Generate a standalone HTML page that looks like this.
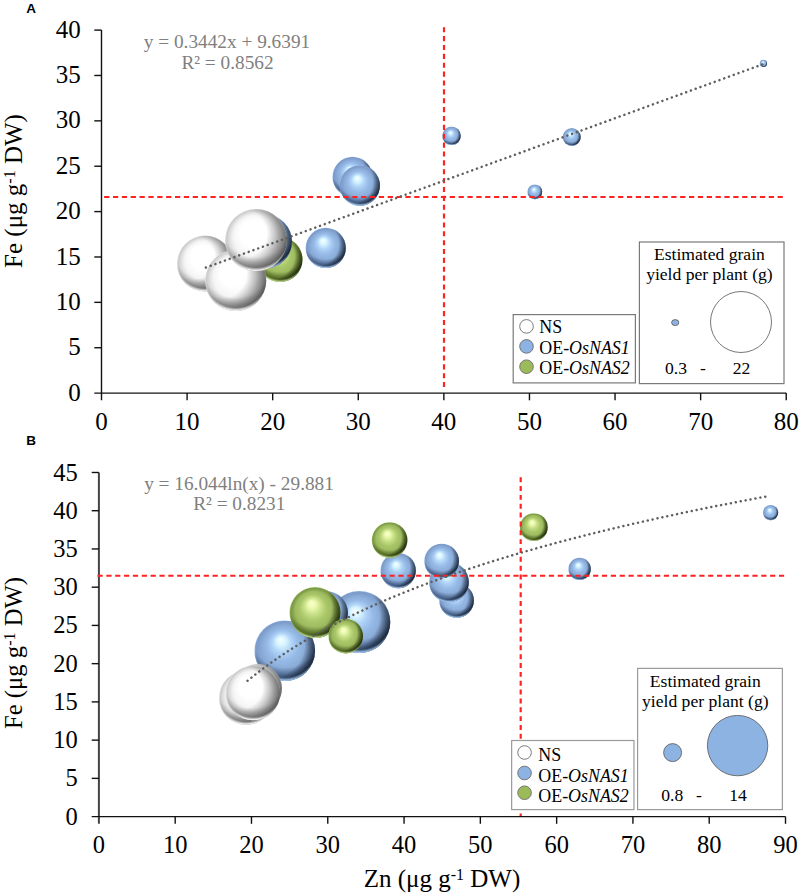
<!DOCTYPE html>
<html><head><meta charset="utf-8"><title>Bubble charts</title>
<style>html,body{margin:0;padding:0;background:#fff;}body{width:800px;height:894px;overflow:hidden;font-family:"Liberation Serif", serif;}svg{display:block;}</style>
</head><body>
<svg width="800" height="894" viewBox="0 0 800 894" font-family='"Liberation Serif", serif'>
<defs><radialGradient id="base_b" cx="0.5" cy="0.5" r="0.5" fx="0.43" fy="0.31"><stop offset="0" stop-color="#f6ffff"/><stop offset="0.15" stop-color="#d9f5ff"/><stop offset="0.33" stop-color="#aed2f7"/><stop offset="0.52" stop-color="#96bae6"/><stop offset="0.74" stop-color="#89aad6"/><stop offset="0.88" stop-color="#7e9dcb"/><stop offset="0.95" stop-color="#7d9ccb"/><stop offset="1" stop-color="#95bbea"/></radialGradient>
<radialGradient id="base_g" cx="0.5" cy="0.5" r="0.5" fx="0.43" fy="0.31"><stop offset="0" stop-color="#fcffd4"/><stop offset="0.15" stop-color="#ecfbb0"/><stop offset="0.33" stop-color="#c8e088"/><stop offset="0.52" stop-color="#aac86a"/><stop offset="0.74" stop-color="#9cb95e"/><stop offset="0.88" stop-color="#809e48"/><stop offset="0.95" stop-color="#7f9d47"/><stop offset="1" stop-color="#abcd78"/></radialGradient>
<radialGradient id="base_w" cx="0.5" cy="0.5" r="0.5" fx="0.43" fy="0.31"><stop offset="0" stop-color="#ffffff"/><stop offset="0.42" stop-color="#ffffff"/><stop offset="0.68" stop-color="#f5f5f5"/><stop offset="0.85" stop-color="#dcdcdc"/><stop offset="0.94" stop-color="#cbcbcb"/><stop offset="1" stop-color="#e6e6e6"/></radialGradient>
<radialGradient id="dark_b" cx="0.3" cy="0.4" r="0.75">
<stop offset="0.7" stop-color="#0c1522" stop-opacity="0"/>
<stop offset="0.88" stop-color="#0c1522" stop-opacity="0.6"/>
<stop offset="1" stop-color="#0c1522" stop-opacity="1.0"/></radialGradient>
<radialGradient id="dark_g" cx="0.3" cy="0.4" r="0.75">
<stop offset="0.7" stop-color="#141c04" stop-opacity="0"/>
<stop offset="0.88" stop-color="#141c04" stop-opacity="0.6"/>
<stop offset="1" stop-color="#141c04" stop-opacity="1.0"/></radialGradient>
<radialGradient id="dark_w" cx="0.3" cy="0.4" r="0.75">
<stop offset="0.5" stop-color="#2a2a2a" stop-opacity="0"/>
<stop offset="0.88" stop-color="#2a2a2a" stop-opacity="0.5"/>
<stop offset="1" stop-color="#2a2a2a" stop-opacity="0.8"/></radialGradient>
<radialGradient id="band_b" cx="0.5" cy="0.2" r="0.8">
<stop offset="0.72" stop-color="#243a5c" stop-opacity="0"/>
<stop offset="0.9" stop-color="#243a5c" stop-opacity="0.62"/>
<stop offset="0.955" stop-color="#243a5c" stop-opacity="0.62"/>
<stop offset="1" stop-color="#243a5c" stop-opacity="0"/></radialGradient>
<radialGradient id="band_g" cx="0.5" cy="0.2" r="0.8">
<stop offset="0.72" stop-color="#34460e" stop-opacity="0"/>
<stop offset="0.9" stop-color="#34460e" stop-opacity="0.55"/>
<stop offset="0.955" stop-color="#34460e" stop-opacity="0.55"/>
<stop offset="1" stop-color="#34460e" stop-opacity="0"/></radialGradient>
<radialGradient id="band_w" cx="0.5" cy="0.2" r="0.8">
<stop offset="0.72" stop-color="#606060" stop-opacity="0"/>
<stop offset="0.9" stop-color="#606060" stop-opacity="0.4"/>
<stop offset="0.955" stop-color="#606060" stop-opacity="0.4"/>
<stop offset="1" stop-color="#606060" stop-opacity="0"/></radialGradient>
<radialGradient id="rim_b" cx="0.5" cy="0.42" r="0.6">
<stop offset="0.87" stop-color="#a8cef8" stop-opacity="0"/>
<stop offset="0.95" stop-color="#a8cef8" stop-opacity="0.9"/>
<stop offset="1" stop-color="#a8cef8" stop-opacity="0.95"/></radialGradient>
<radialGradient id="rim_g" cx="0.5" cy="0.42" r="0.6">
<stop offset="0.87" stop-color="#c4e490" stop-opacity="0"/>
<stop offset="0.95" stop-color="#c4e490" stop-opacity="0.9"/>
<stop offset="1" stop-color="#c4e490" stop-opacity="0.95"/></radialGradient>
<radialGradient id="rim_w" cx="0.5" cy="0.42" r="0.6">
<stop offset="0.87" stop-color="#ffffff" stop-opacity="0"/>
<stop offset="0.95" stop-color="#ffffff" stop-opacity="0.9"/>
<stop offset="1" stop-color="#ffffff" stop-opacity="0.95"/></radialGradient></defs>
<rect width="800" height="894" fill="#fff"/>
<text x="26.3" y="13.3" font-family='"Liberation Sans", sans-serif' font-weight="bold" font-size="13.5">A</text>
<text x="26.3" y="445.1" font-family='"Liberation Sans", sans-serif' font-weight="bold" font-size="13.5">B</text>
<line x1="101.5" y1="30.0" x2="101.5" y2="400.3" stroke="#111" stroke-width="1.4"/>
<line x1="94.3" y1="393.1" x2="786.2199999999999" y2="393.1" stroke="#111" stroke-width="1.4"/>
<text x="80.8" y="392.20" dy="0.34em" text-anchor="end" font-size="25">0</text>
<line x1="94.3" y1="347.73" x2="101.5" y2="347.73" stroke="#111" stroke-width="1.4"/>
<text x="80.8" y="346.83" dy="0.34em" text-anchor="end" font-size="25">5</text>
<line x1="94.3" y1="302.35" x2="101.5" y2="302.35" stroke="#111" stroke-width="1.4"/>
<text x="80.8" y="301.45" dy="0.34em" text-anchor="end" font-size="25">10</text>
<line x1="94.3" y1="256.98" x2="101.5" y2="256.98" stroke="#111" stroke-width="1.4"/>
<text x="80.8" y="256.08" dy="0.34em" text-anchor="end" font-size="25">15</text>
<line x1="94.3" y1="211.60" x2="101.5" y2="211.60" stroke="#111" stroke-width="1.4"/>
<text x="80.8" y="210.70" dy="0.34em" text-anchor="end" font-size="25">20</text>
<line x1="94.3" y1="166.23" x2="101.5" y2="166.23" stroke="#111" stroke-width="1.4"/>
<text x="80.8" y="165.33" dy="0.34em" text-anchor="end" font-size="25">25</text>
<line x1="94.3" y1="120.85" x2="101.5" y2="120.85" stroke="#111" stroke-width="1.4"/>
<text x="80.8" y="119.95" dy="0.34em" text-anchor="end" font-size="25">30</text>
<line x1="94.3" y1="75.48" x2="101.5" y2="75.48" stroke="#111" stroke-width="1.4"/>
<text x="80.8" y="74.58" dy="0.34em" text-anchor="end" font-size="25">35</text>
<line x1="94.3" y1="30.10" x2="101.5" y2="30.10" stroke="#111" stroke-width="1.4"/>
<text x="80.8" y="29.20" dy="0.34em" text-anchor="end" font-size="25">40</text>
<text x="101.50" y="430.3" text-anchor="middle" font-size="25">0</text>
<line x1="187.09" y1="393.1" x2="187.09" y2="400.3" stroke="#111" stroke-width="1.4"/>
<text x="187.09" y="430.3" text-anchor="middle" font-size="25">10</text>
<line x1="272.68" y1="393.1" x2="272.68" y2="400.3" stroke="#111" stroke-width="1.4"/>
<text x="272.68" y="430.3" text-anchor="middle" font-size="25">20</text>
<line x1="358.27" y1="393.1" x2="358.27" y2="400.3" stroke="#111" stroke-width="1.4"/>
<text x="358.27" y="430.3" text-anchor="middle" font-size="25">30</text>
<line x1="443.86" y1="393.1" x2="443.86" y2="400.3" stroke="#111" stroke-width="1.4"/>
<text x="443.86" y="430.3" text-anchor="middle" font-size="25">40</text>
<line x1="529.45" y1="393.1" x2="529.45" y2="400.3" stroke="#111" stroke-width="1.4"/>
<text x="529.45" y="430.3" text-anchor="middle" font-size="25">50</text>
<line x1="615.04" y1="393.1" x2="615.04" y2="400.3" stroke="#111" stroke-width="1.4"/>
<text x="615.04" y="430.3" text-anchor="middle" font-size="25">60</text>
<line x1="700.63" y1="393.1" x2="700.63" y2="400.3" stroke="#111" stroke-width="1.4"/>
<text x="700.63" y="430.3" text-anchor="middle" font-size="25">70</text>
<line x1="786.22" y1="393.1" x2="786.22" y2="400.3" stroke="#111" stroke-width="1.4"/>
<text x="786.22" y="430.3" text-anchor="middle" font-size="25">80</text>
<g><circle cx="352.50" cy="176.80" r="20.00" fill="url(#base_b)"/><circle cx="352.50" cy="176.80" r="20.00" fill="url(#band_b)"/><circle cx="352.50" cy="176.80" r="20.00" fill="url(#dark_b)"/><circle cx="352.50" cy="176.80" r="20.00" fill="url(#rim_b)"/></g>
<g><circle cx="359.80" cy="185.50" r="20.20" fill="url(#base_b)"/><circle cx="359.80" cy="185.50" r="20.20" fill="url(#band_b)"/><circle cx="359.80" cy="185.50" r="20.20" fill="url(#dark_b)"/><circle cx="359.80" cy="185.50" r="20.20" fill="url(#rim_b)"/></g>
<g><circle cx="325.75" cy="247.90" r="20.10" fill="url(#base_b)"/><circle cx="325.75" cy="247.90" r="20.10" fill="url(#band_b)"/><circle cx="325.75" cy="247.90" r="20.10" fill="url(#dark_b)"/><circle cx="325.75" cy="247.90" r="20.10" fill="url(#rim_b)"/></g>
<g><circle cx="451.50" cy="135.80" r="9.30" fill="url(#base_b)"/><circle cx="451.50" cy="135.80" r="9.30" fill="url(#band_b)"/><circle cx="451.50" cy="135.80" r="9.30" fill="url(#dark_b)"/><circle cx="451.50" cy="135.80" r="9.30" fill="url(#rim_b)"/></g>
<g><circle cx="571.75" cy="137.00" r="9.00" fill="url(#base_b)"/><circle cx="571.75" cy="137.00" r="9.00" fill="url(#band_b)"/><circle cx="571.75" cy="137.00" r="9.00" fill="url(#dark_b)"/><circle cx="571.75" cy="137.00" r="9.00" fill="url(#rim_b)"/></g>
<g><circle cx="534.80" cy="191.80" r="7.40" fill="url(#base_b)"/><circle cx="534.80" cy="191.80" r="7.40" fill="url(#band_b)"/><circle cx="534.80" cy="191.80" r="7.40" fill="url(#dark_b)"/><circle cx="534.80" cy="191.80" r="7.40" fill="url(#rim_b)"/></g>
<g><circle cx="763.40" cy="63.40" r="3.60" fill="url(#base_b)"/><circle cx="763.40" cy="63.40" r="3.60" fill="url(#band_b)"/><circle cx="763.40" cy="63.40" r="3.60" fill="url(#dark_b)"/><circle cx="763.40" cy="63.40" r="3.60" fill="url(#rim_b)"/></g>
<g><circle cx="280.00" cy="259.50" r="22.50" fill="url(#base_g)"/><circle cx="280.00" cy="259.50" r="22.50" fill="url(#band_g)"/><circle cx="280.00" cy="259.50" r="22.50" fill="url(#dark_g)"/><circle cx="280.00" cy="259.50" r="22.50" fill="url(#rim_g)"/></g>
<g><circle cx="265.00" cy="241.50" r="27.00" fill="url(#base_b)"/><circle cx="265.00" cy="241.50" r="27.00" fill="url(#band_b)"/><circle cx="265.00" cy="241.50" r="27.00" fill="url(#dark_b)"/><circle cx="265.00" cy="241.50" r="27.00" fill="url(#rim_b)"/></g>
<g><circle cx="205.00" cy="263.50" r="28.00" fill="url(#base_w)"/><circle cx="205.00" cy="263.50" r="28.00" fill="url(#band_w)"/><circle cx="205.00" cy="263.50" r="28.00" fill="url(#dark_w)"/><circle cx="205.00" cy="263.50" r="28.00" fill="url(#rim_w)"/></g>
<g><circle cx="235.70" cy="280.40" r="30.60" fill="url(#base_w)"/><circle cx="235.70" cy="280.40" r="30.60" fill="url(#band_w)"/><circle cx="235.70" cy="280.40" r="30.60" fill="url(#dark_w)"/><circle cx="235.70" cy="280.40" r="30.60" fill="url(#rim_w)"/></g>
<g><circle cx="256.00" cy="240.00" r="31.00" fill="url(#base_w)"/><circle cx="256.00" cy="240.00" r="31.00" fill="url(#band_w)"/><circle cx="256.00" cy="240.00" r="31.00" fill="url(#dark_w)"/><circle cx="256.00" cy="240.00" r="31.00" fill="url(#rim_w)"/></g>
<line x1="104.1" y1="197" x2="782.8" y2="197" stroke="#ff2222" stroke-width="2.2" stroke-dasharray="5.25 3.612"/>
<line x1="444" y1="27.25" x2="444" y2="387" stroke="#ff2222" stroke-width="2.2" stroke-dasharray="5.1 3.770"/>
<path d="M205.90,267.52 L208.68,266.51 L211.46,265.49 L214.25,264.48 L217.03,263.46 L219.81,262.45 L222.59,261.43 L225.37,260.42 L228.16,259.40 L230.94,258.39 L233.72,257.37 L236.50,256.36 L239.28,255.34 L242.07,254.33 L244.85,253.31 L247.63,252.29 L250.41,251.28 L253.19,250.26 L255.98,249.25 L258.76,248.23 L261.54,247.22 L264.32,246.20 L267.10,245.19 L269.89,244.17 L272.67,243.16 L275.45,242.14 L278.23,241.13 L281.01,240.11 L283.80,239.10 L286.58,238.08 L289.36,237.07 L292.14,236.05 L294.92,235.03 L297.71,234.02 L300.49,233.00 L303.27,231.99 L306.05,230.97 L308.83,229.96 L311.62,228.94 L314.40,227.93 L317.18,226.91 L319.96,225.90 L322.74,224.88 L325.53,223.87 L328.31,222.85 L331.09,221.84 L333.87,220.82 L336.65,219.81 L339.44,218.79 L342.22,217.77 L345.00,216.76 L347.78,215.74 L350.56,214.73 L353.35,213.71 L356.13,212.70 L358.91,211.68 L361.69,210.67 L364.47,209.65 L367.26,208.64 L370.04,207.62 L372.82,206.61 L375.60,205.59 L378.38,204.58 L381.17,203.56 L383.95,202.55 L386.73,201.53 L389.51,200.51 L392.29,199.50 L395.08,198.48 L397.86,197.47 L400.64,196.45 L403.42,195.44 L406.20,194.42 L408.99,193.41 L411.77,192.39 L414.55,191.38 L417.33,190.36 L420.11,189.35 L422.90,188.33 L425.68,187.32 L428.46,186.30 L431.24,185.29 L434.02,184.27 L436.81,183.25 L439.59,182.24 L442.37,181.22 L445.15,180.21 L447.93,179.19 L450.72,178.18 L453.50,177.16 L456.28,176.15 L459.06,175.13 L461.84,174.12 L464.63,173.10 L467.41,172.09 L470.19,171.07 L472.97,170.06 L475.75,169.04 L478.54,168.03 L481.32,167.01 L484.10,165.99 L486.88,164.98 L489.66,163.96 L492.45,162.95 L495.23,161.93 L498.01,160.92 L500.79,159.90 L503.57,158.89 L506.36,157.87 L509.14,156.86 L511.92,155.84 L514.70,154.83 L517.48,153.81 L520.27,152.80 L523.05,151.78 L525.83,150.77 L528.61,149.75 L531.39,148.73 L534.18,147.72 L536.96,146.70 L539.74,145.69 L542.52,144.67 L545.30,143.66 L548.09,142.64 L550.87,141.63 L553.65,140.61 L556.43,139.60 L559.21,138.58 L562.00,137.57 L564.78,136.55 L567.56,135.54 L570.34,134.52 L573.12,133.51 L575.91,132.49 L578.69,131.47 L581.47,130.46 L584.25,129.44 L587.03,128.43 L589.82,127.41 L592.60,126.40 L595.38,125.38 L598.16,124.37 L600.94,123.35 L603.73,122.34 L606.51,121.32 L609.29,120.31 L612.07,119.29 L614.85,118.28 L617.64,117.26 L620.42,116.25 L623.20,115.23 L625.98,114.21 L628.76,113.20 L631.55,112.18 L634.33,111.17 L637.11,110.15 L639.89,109.14 L642.67,108.12 L645.46,107.11 L648.24,106.09 L651.02,105.08 L653.80,104.06 L656.58,103.05 L659.37,102.03 L662.15,101.02 L664.93,100.00 L667.71,98.99 L670.49,97.97 L673.28,96.95 L676.06,95.94 L678.84,94.92 L681.62,93.91 L684.40,92.89 L687.19,91.88 L689.97,90.86 L692.75,89.85 L695.53,88.83 L698.31,87.82 L701.10,86.80 L703.88,85.79 L706.66,84.77 L709.44,83.76 L712.22,82.74 L715.01,81.73 L717.79,80.71 L720.57,79.69 L723.35,78.68 L726.13,77.66 L728.92,76.65 L731.70,75.63 L734.48,74.62 L737.26,73.60 L740.04,72.59 L742.83,71.57 L745.61,70.56 L748.39,69.54 L751.17,68.53 L753.95,67.51 L756.74,66.50 L759.52,65.48 L762.30,64.47" fill="none" stroke="#5e5e5e" stroke-width="2.5" stroke-linecap="round" stroke-dasharray="0.01 5.052"/>
<text x="227" y="47.7" text-anchor="middle" font-size="19.3" fill="#7f7f7f">y = 0.3442x + 9.6391</text>
<text x="227.5" y="69" text-anchor="middle" font-size="19.3" fill="#7f7f7f">R² = 0.8562</text>
<text transform="translate(22,191) rotate(-90)" text-anchor="middle" font-size="25">Fe (μg g<tspan dy="-7.3" font-size="16">-1</tspan><tspan dy="7.3"> DW)</tspan></text>
<rect x="513.2" y="314.6" width="122.2" height="68.3" fill="#fff" stroke="#7a7a7a" stroke-width="1.2"/>
<circle cx="526.5" cy="326.4" r="6.8" fill="#ffffff" stroke="#6b6b6b" stroke-width="0.9"/>
<text x="539.3" y="333.1" font-size="17.9">NS</text>
<circle cx="526.5" cy="346.4" r="6.8" fill="#8db3e2" stroke="#6b6b6b" stroke-width="0.9"/>
<text x="539.3" y="353.8" font-size="17.9">OE-<tspan font-style="italic">OsNAS1</tspan></text>
<circle cx="526.5" cy="366.7" r="6.8" fill="#9bbb59" stroke="#6b6b6b" stroke-width="0.9"/>
<text x="539.3" y="374.0" font-size="17.9">OE-<tspan font-style="italic">OsNAS2</tspan></text>
<rect x="639.4" y="242" width="144.6" height="141.6" fill="#fff" stroke="#7a7a7a" stroke-width="1.2"/>
<text x="709.4" y="259.6" text-anchor="middle" font-size="17.6">Estimated grain</text>
<text x="709.4" y="279.6" text-anchor="middle" font-size="17.6">yield per plant (g)</text>
<ellipse cx="675.2" cy="322.6" rx="3.6" ry="3.0" fill="#8db3e2" stroke="#555" stroke-width="0.8"/>
<circle cx="741" cy="322" r="30.5" fill="#ffffff" stroke="#555" stroke-width="0.8"/>
<text x="676" y="374" text-anchor="middle" font-size="17.6">0.3</text>
<text x="703" y="374" text-anchor="middle" font-size="17.6">-</text>
<text x="741.5" y="374" text-anchor="middle" font-size="17.6">22</text>
<line x1="98.9" y1="472.5" x2="98.9" y2="823.8000000000001" stroke="#444" stroke-width="2.0"/>
<line x1="91.7" y1="816.6" x2="785.51" y2="816.6" stroke="#111" stroke-width="1.4"/>
<text x="77.80000000000001" y="816.30" dy="0.34em" text-anchor="end" font-size="24.5">0</text>
<line x1="91.7" y1="778.37" x2="98.9" y2="778.37" stroke="#111" stroke-width="1.4"/>
<text x="77.80000000000001" y="778.07" dy="0.34em" text-anchor="end" font-size="24.5">5</text>
<line x1="91.7" y1="740.13" x2="98.9" y2="740.13" stroke="#111" stroke-width="1.4"/>
<text x="77.80000000000001" y="739.83" dy="0.34em" text-anchor="end" font-size="24.5">10</text>
<line x1="91.7" y1="701.89" x2="98.9" y2="701.89" stroke="#111" stroke-width="1.4"/>
<text x="77.80000000000001" y="701.60" dy="0.34em" text-anchor="end" font-size="24.5">15</text>
<line x1="91.7" y1="663.66" x2="98.9" y2="663.66" stroke="#111" stroke-width="1.4"/>
<text x="77.80000000000001" y="663.36" dy="0.34em" text-anchor="end" font-size="24.5">20</text>
<line x1="91.7" y1="625.42" x2="98.9" y2="625.42" stroke="#111" stroke-width="1.4"/>
<text x="77.80000000000001" y="625.12" dy="0.34em" text-anchor="end" font-size="24.5">25</text>
<line x1="91.7" y1="587.19" x2="98.9" y2="587.19" stroke="#111" stroke-width="1.4"/>
<text x="77.80000000000001" y="586.89" dy="0.34em" text-anchor="end" font-size="24.5">30</text>
<line x1="91.7" y1="548.96" x2="98.9" y2="548.96" stroke="#111" stroke-width="1.4"/>
<text x="77.80000000000001" y="548.66" dy="0.34em" text-anchor="end" font-size="24.5">35</text>
<line x1="91.7" y1="510.72" x2="98.9" y2="510.72" stroke="#111" stroke-width="1.4"/>
<text x="77.80000000000001" y="510.42" dy="0.34em" text-anchor="end" font-size="24.5">40</text>
<line x1="91.7" y1="472.49" x2="98.9" y2="472.49" stroke="#111" stroke-width="1.4"/>
<text x="77.80000000000001" y="472.19" dy="0.34em" text-anchor="end" font-size="24.5">45</text>
<text x="98.90" y="853.2" text-anchor="middle" font-size="24.5">0</text>
<line x1="175.19" y1="816.6" x2="175.19" y2="823.8000000000001" stroke="#111" stroke-width="1.4"/>
<text x="175.19" y="853.2" text-anchor="middle" font-size="24.5">10</text>
<line x1="251.48" y1="816.6" x2="251.48" y2="823.8000000000001" stroke="#111" stroke-width="1.4"/>
<text x="251.48" y="853.2" text-anchor="middle" font-size="24.5">20</text>
<line x1="327.77" y1="816.6" x2="327.77" y2="823.8000000000001" stroke="#111" stroke-width="1.4"/>
<text x="327.77" y="853.2" text-anchor="middle" font-size="24.5">30</text>
<line x1="404.06" y1="816.6" x2="404.06" y2="823.8000000000001" stroke="#111" stroke-width="1.4"/>
<text x="404.06" y="853.2" text-anchor="middle" font-size="24.5">40</text>
<line x1="480.35" y1="816.6" x2="480.35" y2="823.8000000000001" stroke="#111" stroke-width="1.4"/>
<text x="480.35" y="853.2" text-anchor="middle" font-size="24.5">50</text>
<line x1="556.64" y1="816.6" x2="556.64" y2="823.8000000000001" stroke="#111" stroke-width="1.4"/>
<text x="556.64" y="853.2" text-anchor="middle" font-size="24.5">60</text>
<line x1="632.93" y1="816.6" x2="632.93" y2="823.8000000000001" stroke="#111" stroke-width="1.4"/>
<text x="632.93" y="853.2" text-anchor="middle" font-size="24.5">70</text>
<line x1="709.22" y1="816.6" x2="709.22" y2="823.8000000000001" stroke="#111" stroke-width="1.4"/>
<text x="709.22" y="853.2" text-anchor="middle" font-size="24.5">80</text>
<line x1="785.51" y1="816.6" x2="785.51" y2="823.8000000000001" stroke="#111" stroke-width="1.4"/>
<text x="785.51" y="853.2" text-anchor="middle" font-size="24.5">90</text>
<g><circle cx="284.80" cy="650.70" r="30.30" fill="url(#base_b)"/><circle cx="284.80" cy="650.70" r="30.30" fill="url(#band_b)"/><circle cx="284.80" cy="650.70" r="30.30" fill="url(#dark_b)"/><circle cx="284.80" cy="650.70" r="30.30" fill="url(#rim_b)"/></g>
<g><circle cx="359.30" cy="622.00" r="31.00" fill="url(#base_b)"/><circle cx="359.30" cy="622.00" r="31.00" fill="url(#band_b)"/><circle cx="359.30" cy="622.00" r="31.00" fill="url(#dark_b)"/><circle cx="359.30" cy="622.00" r="31.00" fill="url(#rim_b)"/></g>
<g><circle cx="326.00" cy="613.00" r="22.00" fill="url(#base_b)"/><circle cx="326.00" cy="613.00" r="22.00" fill="url(#band_b)"/><circle cx="326.00" cy="613.00" r="22.00" fill="url(#dark_b)"/><circle cx="326.00" cy="613.00" r="22.00" fill="url(#rim_b)"/></g>
<g><circle cx="398.20" cy="570.60" r="17.70" fill="url(#base_b)"/><circle cx="398.20" cy="570.60" r="17.70" fill="url(#band_b)"/><circle cx="398.20" cy="570.60" r="17.70" fill="url(#dark_b)"/><circle cx="398.20" cy="570.60" r="17.70" fill="url(#rim_b)"/></g>
<g><circle cx="456.60" cy="600.40" r="17.35" fill="url(#base_b)"/><circle cx="456.60" cy="600.40" r="17.35" fill="url(#band_b)"/><circle cx="456.60" cy="600.40" r="17.35" fill="url(#dark_b)"/><circle cx="456.60" cy="600.40" r="17.35" fill="url(#rim_b)"/></g>
<g><circle cx="449.00" cy="582.10" r="19.90" fill="url(#base_b)"/><circle cx="449.00" cy="582.10" r="19.90" fill="url(#band_b)"/><circle cx="449.00" cy="582.10" r="19.90" fill="url(#dark_b)"/><circle cx="449.00" cy="582.10" r="19.90" fill="url(#rim_b)"/></g>
<g><circle cx="441.65" cy="561.00" r="17.35" fill="url(#base_b)"/><circle cx="441.65" cy="561.00" r="17.35" fill="url(#band_b)"/><circle cx="441.65" cy="561.00" r="17.35" fill="url(#dark_b)"/><circle cx="441.65" cy="561.00" r="17.35" fill="url(#rim_b)"/></g>
<g><circle cx="579.60" cy="568.90" r="11.20" fill="url(#base_b)"/><circle cx="579.60" cy="568.90" r="11.20" fill="url(#band_b)"/><circle cx="579.60" cy="568.90" r="11.20" fill="url(#dark_b)"/><circle cx="579.60" cy="568.90" r="11.20" fill="url(#rim_b)"/></g>
<g><circle cx="770.60" cy="512.60" r="7.60" fill="url(#base_b)"/><circle cx="770.60" cy="512.60" r="7.60" fill="url(#band_b)"/><circle cx="770.60" cy="512.60" r="7.60" fill="url(#dark_b)"/><circle cx="770.60" cy="512.60" r="7.60" fill="url(#rim_b)"/></g>
<g><circle cx="315.00" cy="612.60" r="25.50" fill="url(#base_g)"/><circle cx="315.00" cy="612.60" r="25.50" fill="url(#band_g)"/><circle cx="315.00" cy="612.60" r="25.50" fill="url(#dark_g)"/><circle cx="315.00" cy="612.60" r="25.50" fill="url(#rim_g)"/></g>
<g><circle cx="345.75" cy="636.10" r="17.30" fill="url(#base_g)"/><circle cx="345.75" cy="636.10" r="17.30" fill="url(#band_g)"/><circle cx="345.75" cy="636.10" r="17.30" fill="url(#dark_g)"/><circle cx="345.75" cy="636.10" r="17.30" fill="url(#rim_g)"/></g>
<g><circle cx="389.60" cy="540.00" r="17.80" fill="url(#base_g)"/><circle cx="389.60" cy="540.00" r="17.80" fill="url(#band_g)"/><circle cx="389.60" cy="540.00" r="17.80" fill="url(#dark_g)"/><circle cx="389.60" cy="540.00" r="17.80" fill="url(#rim_g)"/></g>
<g><circle cx="533.80" cy="527.20" r="13.90" fill="url(#base_g)"/><circle cx="533.80" cy="527.20" r="13.90" fill="url(#band_g)"/><circle cx="533.80" cy="527.20" r="13.90" fill="url(#dark_g)"/><circle cx="533.80" cy="527.20" r="13.90" fill="url(#rim_g)"/></g>
<g><circle cx="257.40" cy="688.50" r="24.50" fill="url(#base_w)"/><circle cx="257.40" cy="688.50" r="24.50" fill="url(#band_w)"/><circle cx="257.40" cy="688.50" r="24.50" fill="url(#dark_w)"/><circle cx="257.40" cy="688.50" r="24.50" fill="url(#rim_w)"/></g>
<g><circle cx="246.00" cy="697.70" r="27.00" fill="url(#base_w)"/><circle cx="246.00" cy="697.70" r="27.00" fill="url(#band_w)"/><circle cx="246.00" cy="697.70" r="27.00" fill="url(#dark_w)"/><circle cx="246.00" cy="697.70" r="27.00" fill="url(#rim_w)"/></g>
<g><circle cx="253.00" cy="693.00" r="27.20" fill="url(#base_w)"/><circle cx="253.00" cy="693.00" r="27.20" fill="url(#band_w)"/><circle cx="253.00" cy="693.00" r="27.20" fill="url(#dark_w)"/><circle cx="253.00" cy="693.00" r="27.20" fill="url(#rim_w)"/></g>
<line x1="97.5" y1="575.75" x2="785" y2="575.75" stroke="#ff2222" stroke-width="2.2" stroke-dasharray="5.2 3.650"/>
<line x1="520.7" y1="477.2" x2="520.7" y2="816" stroke="#ff2222" stroke-width="2.2" stroke-dasharray="4.95 3.900"/>
<path d="M247.55,680.76 L248.85,679.69 L250.16,678.63 L251.46,677.57 L252.77,676.53 L254.07,675.49 L255.38,674.46 L256.68,673.45 L257.99,672.44 L259.29,671.43 L260.59,670.44 L261.90,669.45 L263.20,668.48 L264.51,667.51 L265.81,666.54 L267.12,665.59 L268.42,664.64 L269.72,663.70 L271.03,662.77 L272.33,661.84 L273.64,660.92 L274.94,660.01 L276.25,659.10 L277.55,658.20 L278.86,657.31 L280.16,656.43 L281.46,655.55 L282.77,654.67 L284.07,653.81 L285.38,652.94 L286.68,652.09 L287.99,651.24 L289.29,650.40 L290.59,649.56 L291.90,648.73 L293.20,647.90 L294.51,647.08 L295.81,646.26 L297.12,645.45 L298.42,644.65 L299.73,643.85 L301.03,643.06 L302.33,642.27 L303.64,641.48 L304.94,640.70 L306.25,639.93 L307.55,639.16 L308.86,638.40 L310.16,637.64 L311.46,636.88 L312.77,636.13 L314.07,635.38 L315.38,634.64 L316.68,633.91 L317.99,633.17 L319.29,632.44 L320.60,631.72 L321.90,631.00 L323.20,630.28 L324.51,629.57 L325.81,628.87 L327.12,628.16 L328.42,627.46 L329.73,626.77 L331.03,626.08 L332.33,625.39 L333.64,624.71 L334.94,624.03 L336.25,623.35 L337.55,622.68 L338.86,622.01 L340.16,621.34 L341.47,620.68 L342.77,620.02 L344.07,619.37 L345.38,618.72 L346.68,618.07 L347.99,617.43 L349.29,616.79 L350.60,616.15 L351.90,615.51 L353.20,614.88 L354.51,614.26 L355.81,613.63 L357.12,613.01 L358.42,612.39 L359.73,611.78 L361.03,611.16 L362.34,610.56 L363.64,609.95 L364.94,609.35 L366.25,608.75 L367.55,608.15 L368.86,607.56 L370.16,606.96 L371.47,606.38 L372.77,605.79 L374.07,605.21 L375.38,604.63 L376.68,604.05 L377.99,603.47 L379.29,602.90 L380.60,602.33 L381.90,601.77 L383.21,601.20 L384.51,600.64 L385.81,600.08 L387.12,599.52 L388.42,598.97 L389.73,598.42 L391.03,597.87 L392.34,597.32 L393.64,596.78 L394.94,596.24 L396.25,595.70 L397.55,595.16 L398.86,594.63 L400.16,594.09 L401.47,593.56 L402.77,593.04 L404.08,592.51 L405.38,591.99 L406.68,591.47 L407.99,590.95 L409.29,590.43 L410.60,589.92 L411.90,589.40 L413.21,588.89 L414.51,588.39 L415.81,587.88 L417.12,587.38 L418.42,586.87 L419.73,586.37 L421.03,585.88 L422.34,585.38 L423.64,584.89 L424.95,584.40 L426.25,583.91 L427.55,583.42 L428.86,582.93 L430.16,582.45 L431.47,581.97 L432.77,581.48 L434.08,581.01 L435.38,580.53 L436.68,580.06 L437.99,579.58 L439.29,579.11 L440.60,578.64 L441.90,578.17 L443.21,577.71 L444.51,577.25 L445.82,576.78 L447.12,576.32 L448.42,575.86 L449.73,575.41 L451.03,574.95 L452.34,574.50 L453.64,574.05 L454.95,573.60 L456.25,573.15 L457.55,572.70 L458.86,572.25 L460.16,571.81 L461.47,571.37 L462.77,570.93 L464.08,570.49 L465.38,570.05 L466.69,569.62 L467.99,569.18 L469.29,568.75 L470.60,568.32 L471.90,567.89 L473.21,567.46 L474.51,567.03 L475.82,566.61 L477.12,566.18 L478.42,565.76 L479.73,565.34 L481.03,564.92 L482.34,564.50 L483.64,564.09 L484.95,563.67 L486.25,563.26 L487.55,562.84 L488.86,562.43 L490.16,562.02 L491.47,561.62 L492.77,561.21 L494.08,560.80 L495.38,560.40 L496.69,560.00 L497.99,559.59 L499.29,559.19 L500.60,558.79 L501.90,558.40 L503.21,558.00 L504.51,557.60 L505.82,557.21 L507.12,556.82 L508.43,556.43 L509.73,556.04 L511.03,555.65 L512.34,555.26 L513.64,554.87 L514.95,554.49 L516.25,554.10 L517.56,553.72 L518.86,553.34 L520.16,552.96 L521.47,552.58 L522.77,552.20 L524.08,551.82 L525.38,551.45 L526.69,551.07 L527.99,550.70 L529.30,550.33 L530.60,549.96 L531.90,549.59 L533.21,549.22 L534.51,548.85 L535.82,548.48 L537.12,548.12 L538.43,547.75 L539.73,547.39 L541.03,547.03 L542.34,546.67 L543.64,546.31 L544.95,545.95 L546.25,545.59 L547.56,545.23 L548.86,544.87 L550.16,544.52 L551.47,544.16 L552.77,543.81 L554.08,543.46 L555.38,543.11 L556.69,542.76 L557.99,542.41 L559.30,542.06 L560.60,541.71 L561.90,541.37 L563.21,541.02 L564.51,540.68 L565.82,540.34 L567.12,539.99 L568.43,539.65 L569.73,539.31 L571.03,538.97 L572.34,538.63 L573.64,538.30 L574.95,537.96 L576.25,537.62 L577.56,537.29 L578.86,536.96 L580.17,536.62 L581.47,536.29 L582.77,535.96 L584.08,535.63 L585.38,535.30 L586.69,534.97 L587.99,534.64 L589.30,534.32 L590.60,533.99 L591.91,533.67 L593.21,533.34 L594.51,533.02 L595.82,532.70 L597.12,532.37 L598.43,532.05 L599.73,531.73 L601.04,531.41 L602.34,531.10 L603.64,530.78 L604.95,530.46 L606.25,530.15 L607.56,529.83 L608.86,529.52 L610.17,529.20 L611.47,528.89 L612.77,528.58 L614.08,528.27 L615.38,527.96 L616.69,527.65 L617.99,527.34 L619.30,527.03 L620.60,526.72 L621.91,526.42 L623.21,526.11 L624.51,525.81 L625.82,525.50 L627.12,525.20 L628.43,524.90 L629.73,524.60 L631.04,524.29 L632.34,523.99 L633.64,523.69 L634.95,523.40 L636.25,523.10 L637.56,522.80 L638.86,522.50 L640.17,522.21 L641.47,521.91 L642.78,521.62 L644.08,521.32 L645.38,521.03 L646.69,520.74 L647.99,520.45 L649.30,520.15 L650.60,519.86 L651.91,519.57 L653.21,519.29 L654.52,519.00 L655.82,518.71 L657.12,518.42 L658.43,518.14 L659.73,517.85 L661.04,517.57 L662.34,517.28 L663.65,517.00 L664.95,516.71 L666.25,516.43 L667.56,516.15 L668.86,515.87 L670.17,515.59 L671.47,515.31 L672.78,515.03 L674.08,514.75 L675.38,514.47 L676.69,514.20 L677.99,513.92 L679.30,513.64 L680.60,513.37 L681.91,513.09 L683.21,512.82 L684.52,512.55 L685.82,512.27 L687.12,512.00 L688.43,511.73 L689.73,511.46 L691.04,511.19 L692.34,510.92 L693.65,510.65 L694.95,510.38 L696.26,510.11 L697.56,509.84 L698.86,509.58 L700.17,509.31 L701.47,509.04 L702.78,508.78 L704.08,508.51 L705.39,508.25 L706.69,507.99 L707.99,507.72 L709.30,507.46 L710.60,507.20 L711.91,506.94 L713.21,506.68 L714.52,506.42 L715.82,506.16 L717.13,505.90 L718.43,505.64 L719.73,505.38 L721.04,505.12 L722.34,504.87 L723.65,504.61 L724.95,504.35 L726.26,504.10 L727.56,503.84 L728.86,503.59 L730.17,503.34 L731.47,503.08 L732.78,502.83 L734.08,502.58 L735.39,502.33 L736.69,502.07 L738.00,501.82 L739.30,501.57 L740.60,501.32 L741.91,501.07 L743.21,500.83 L744.52,500.58 L745.82,500.33 L747.13,500.08 L748.43,499.84 L749.73,499.59 L751.04,499.34 L752.34,499.10 L753.65,498.86 L754.95,498.61 L756.26,498.37 L757.56,498.12 L758.87,497.88 L760.17,497.64 L761.47,497.40 L762.78,497.16 L764.08,496.92 L765.39,496.67 L766.69,496.43 L768.00,496.20 L769.30,495.96" fill="none" stroke="#5e5e5e" stroke-width="2.5" stroke-linecap="round" stroke-dasharray="0.01 4.987"/>
<text x="239" y="489.5" text-anchor="middle" font-size="19.3" fill="#7f7f7f">y = 16.044ln(x) - 29.881</text>
<text x="239.3" y="510" text-anchor="middle" font-size="19.3" fill="#7f7f7f">R² = 0.8231</text>
<text transform="translate(22,653) rotate(-90)" text-anchor="middle" font-size="24.7">Fe (μg g<tspan dy="-7.3" font-size="16">-1</tspan><tspan dy="7.3"> DW)</tspan></text>
<text x="442" y="887" text-anchor="middle" font-size="25">Zn (μg g<tspan dy="-7.3" font-size="16">-1</tspan><tspan dy="7.3"> DW)</tspan></text>
<rect x="511.65" y="740.5" width="122.3" height="69.1" fill="#fff" stroke="#9a9a9a" stroke-width="1.2"/>
<circle cx="524.55" cy="752.5" r="6.8" fill="#ffffff" stroke="#6b6b6b" stroke-width="0.9"/>
<text x="538.3" y="761.1" font-size="17.9">NS</text>
<circle cx="524.55" cy="773.0" r="6.8" fill="#8db3e2" stroke="#6b6b6b" stroke-width="0.9"/>
<text x="538.3" y="781.9" font-size="17.9">OE-<tspan font-style="italic">OsNAS1</tspan></text>
<circle cx="524.55" cy="792.75" r="6.8" fill="#9bbb59" stroke="#6b6b6b" stroke-width="0.9"/>
<text x="538.3" y="801.8" font-size="17.9">OE-<tspan font-style="italic">OsNAS2</tspan></text>
<rect x="637.6" y="668.4" width="144.8" height="141.2" fill="#fff" stroke="#9a9a9a" stroke-width="1.2"/>
<text x="705.3" y="686.6" text-anchor="middle" font-size="17.6">Estimated grain</text>
<text x="705.3" y="707" text-anchor="middle" font-size="17.6">yield per plant (g)</text>
<ellipse cx="672.6" cy="752.6" rx="9" ry="9" fill="#8db3e2" stroke="#555" stroke-width="0.8"/>
<circle cx="737.6" cy="745.6" r="30.2" fill="#8db3e2" stroke="#555" stroke-width="0.8"/>
<text x="672.2" y="801" text-anchor="middle" font-size="17.6">0.8</text>
<text x="699" y="801" text-anchor="middle" font-size="17.6">-</text>
<text x="738" y="801" text-anchor="middle" font-size="17.6">14</text>
</svg>
</body></html>
